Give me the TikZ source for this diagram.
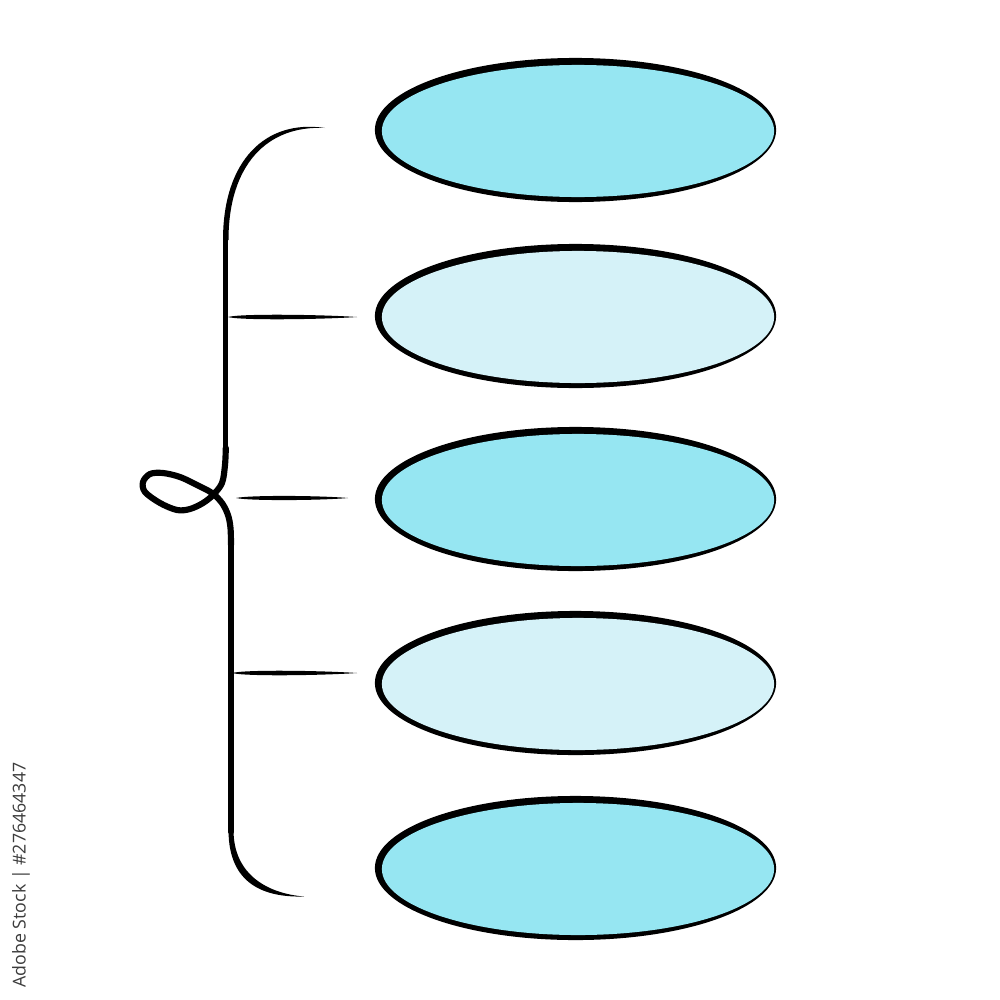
\documentclass[tikz,border=0pt]{standalone}
\usepackage{fontspec}
\setmainfont{Open Sans}
\usetikzlibrary{shapes.geometric}
\definecolor{cyanA}{RGB}{150,230,242}
\definecolor{cyanB}{RGB}{213,242,248}
\definecolor{wmgray}{RGB}{60,60,60}
\begin{document}
\begin{tikzpicture}[x=0.01cm,y=-0.01cm,
  rim/.style={ellipse,fill=black,draw=none,inner sep=0pt,minimum width=4.01cm,minimum height=1.44cm},
  body/.style={ellipse,draw=none,inner sep=0pt,minimum width=3.92cm,minimum height=1.32cm},
  stroke/.style={line width=1.5pt,line cap=round,line join=round},
  ink/.style={fill=black}]
\useasboundingbox (0,0) rectangle (1000,1000);
\fill[white] (0,0) rectangle (1000,1000);
% ellipses
\foreach \i/\y/\c in {1/130/cyanA,2/316/cyanB,3/499/cyanA,4/683/cyanB,5/868/cyanA}{
  \node[rim] (r\i) at (575.5,\y) {};
  \node[body,fill=\c] (e\i) at (578,\y+1) {};
}
% brace: top tapered arc
\fill[ink] (325,128) .. controls (266,119) and (223,160) .. (223,240)
  -- (228.5,240) .. controls (228.5,165) and (267,125) .. (325,128) -- cycle;
\draw[stroke] (225.8,238) -- (225.8,450);
% loop
\draw[stroke,line width=1.75pt] plot[smooth,tension=0.55] coordinates {(225.8,448) (225,465) (222,483) (213,495) (203,503) (190,509) (177,510) (160,503) (145,492) (143,482) (150,474) (163,473) (180,477) (197,485) (212,493) (222,503) (228,515) (230.5,528) (231,545)};
\draw[stroke] (231,540) -- (231,832);
% bottom tapered arc
\fill[ink] (228.5,830) .. controls (228.5,885) and (265,897.5) .. (304,896.5)
  .. controls (268,893.5) and (233.5,875) .. (233.5,830) -- cycle;
% ticks
\fill[ink] (228,317) .. controls (240,313.5) and (320,314.5) .. (357,317)
  .. controls (320,319.5) and (240,320.5) .. (228,317) -- cycle;
\fill[ink] (236,498) .. controls (250,495) and (320,495.5) .. (348,498)
  .. controls (320,500.5) and (250,501) .. (236,498) -- cycle;
\fill[ink] (232,673) .. controls (245,669.5) and (320,670.5) .. (357,673)
  .. controls (320,675.5) and (245,676.5) .. (232,673) -- cycle;
% side watermark text
\node[rotate=90,anchor=east,inner sep=0pt,text=wmgray,font=\fontsize{5.05}{6}\selectfont] (wm) at (21,762) {Adobe Stock | \#276464347};
\end{tikzpicture}
\end{document}
